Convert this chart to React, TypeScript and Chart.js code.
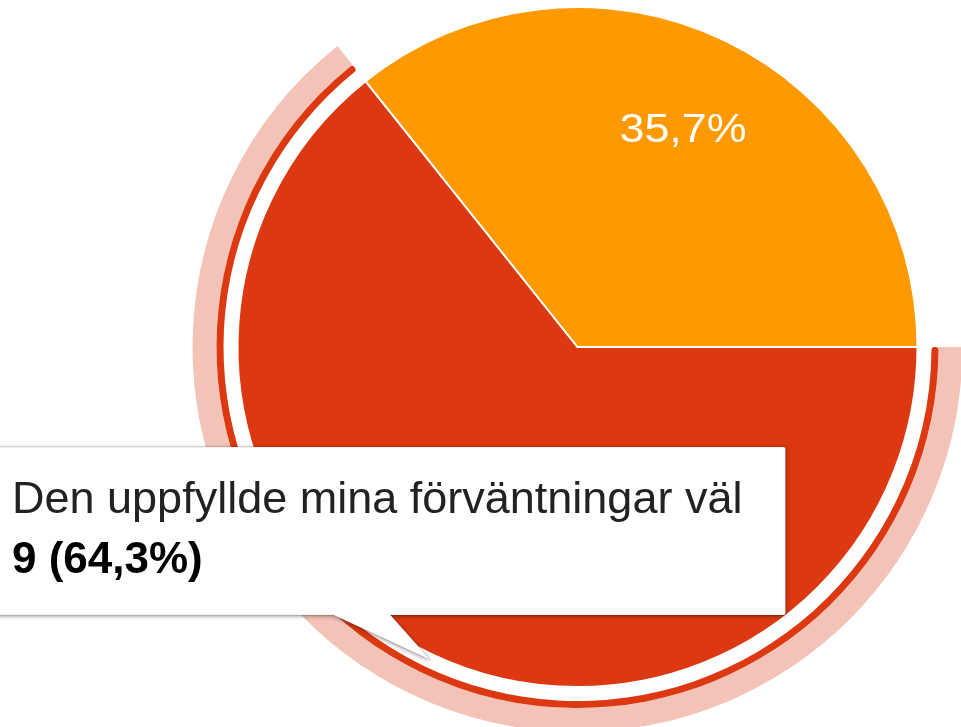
import React, { useEffect, useRef } from 'react';
import { Chart, registerables } from 'chart.js';

Chart.register(...registerables);

// ---- data ----
const categories = [
  'Den uppfyllde mina förväntningar väl',
  'Den överträffade mina förväntningar',
];
const responses = [9, 5];
const sliceColors = ['#DC3912', '#FF9900'];
const highlightedIndex = 0;

const FONT = 'Arial, "Liberation Sans", sans-serif';

const pct = (i: number) => {
  const total = responses.reduce((a, b) => a + b, 0);
  return ((responses[i] / total) * 100).toFixed(1).replace('.', ',') + '%';
};

const MAIN = 3;

const labelPlugin = {
  id: 'sliceLabels',
  afterDatasetsDraw(chart: any) {
    const meta = chart.getDatasetMeta(MAIN);
    const ctx = chart.ctx;
    meta.data.forEach((arc: any, i: number) => {
      const p = arc.getProps(['x', 'y', 'startAngle', 'endAngle', 'outerRadius'], true);
      const mid = (p.startAngle + p.endAngle) / 2;
      const d = p.outerRadius * 0.715;
      const lx = p.x + Math.cos(mid) * d;
      const ly = p.y + Math.sin(mid) * d;
      ctx.save();
      ctx.translate(lx, ly);
      ctx.scale(1.12, 1);
      ctx.fillStyle = '#ffffff';
      ctx.font = `40px ${FONT}`;
      ctx.textAlign = 'center';
      ctx.textBaseline = 'alphabetic';
      ctx.fillText(pct(i), 0, 14.3);
      ctx.restore();
    });
  },
};

const tooltipPlugin = {
  id: 'fixedTooltip',
  afterDraw(chart: any) {
    const meta = chart.getDatasetMeta(MAIN);
    const arc = meta.data[highlightedIndex];
    if (!arc) return;
    const { x: cx, y: cy } = arc.getProps(['x', 'y'], true);
    const ctx = chart.ctx;
    const left = cx - 610;
    const right = cx + 208;
    const top = cy + 100;
    const bottom = cy + 268;
    const pl = cx - 244;
    const pr = cx - 187;
    const tipX = cx - 147;
    const tipY = cy + 313;
    const r = 2;
    ctx.save();
    ctx.beginPath();
    ctx.moveTo(left + r, top);
    ctx.lineTo(right - r, top);
    ctx.quadraticCurveTo(right, top, right, top + r);
    ctx.lineTo(right, bottom - r);
    ctx.quadraticCurveTo(right, bottom, right - r, bottom);
    ctx.lineTo(pr, bottom);
    ctx.lineTo(tipX, tipY);
    ctx.lineTo(pl, bottom);
    ctx.lineTo(left + r, bottom);
    ctx.quadraticCurveTo(left, bottom, left, bottom - r);
    ctx.lineTo(left, top + r);
    ctx.quadraticCurveTo(left, top, left + r, top);
    ctx.closePath();
    ctx.shadowColor = 'rgba(0,0,0,0.45)';
    ctx.shadowBlur = 4;
    ctx.shadowOffsetX = 0;
    ctx.shadowOffsetY = 1;
    ctx.fillStyle = '#ffffff';
    ctx.fill();
    ctx.shadowColor = 'transparent';
    ctx.strokeStyle = 'rgba(0,0,0,0.12)';
    ctx.lineWidth = 1;
    ctx.stroke();

    const tx = cx - 565.5;
    ctx.textAlign = 'left';
    ctx.textBaseline = 'alphabetic';
    ctx.fillStyle = '#222222';
    ctx.font = `45px ${FONT}`;
    ctx.fillText(categories[highlightedIndex], tx, cy + 166);
    ctx.fillStyle = '#000000';
    ctx.font = `bold 44px ${FONT}`;
    ctx.fillText(`${responses[highlightedIndex]} (${pct(highlightedIndex)})`, tx, cy + 226);
    ctx.restore();
  },
};

export default function App() {
  const ref = useRef<HTMLCanvasElement | null>(null);

  useEffect(() => {
    document.body.style.margin = '0';
    const canvas = ref.current;
    if (!canvas) return;
    const ringColors = (c: string) =>
      responses.map((_, i) => (i === highlightedIndex ? c : 'rgba(0,0,0,0)'));
    const chart = new Chart(canvas, {
      type: 'pie',
      data: {
        labels: categories,
        datasets: [
          {
            data: responses,
            backgroundColor: ringColors('rgba(220,57,18,0.3)'),
            borderWidth: 0,
            weight: 24,
          } as any,
          {
            data: responses,
            backgroundColor: ringColors('#DC3912'),
            borderWidth: 0,
            borderRadius: 3,
            weight: 7,
          } as any,
          {
            data: responses,
            backgroundColor: responses.map(() => 'rgba(0,0,0,0)'),
            borderWidth: 0,
            weight: 14,
          } as any,
          {
            data: responses,
            backgroundColor: sliceColors,
            borderColor: '#ffffff',
            borderWidth: 2,
            weight: 340,
          } as any,
        ],
      },
      options: {
        responsive: false,
        animation: false,
        devicePixelRatio: 1,
        events: [],
        rotation: 90,
        radius: 385,
        layout: { padding: 0 },
        plugins: {
          legend: { display: false },
          tooltip: { enabled: false },
          title: { display: false },
        },
      } as any,
      plugins: [labelPlugin, tooltipPlugin],
    });
    return () => chart.destroy();
  }, []);

  return (
    <div
      style={{
        position: 'fixed',
        left: 0,
        top: 0,
        width: 961,
        height: 727,
        overflow: 'hidden',
        background: '#ffffff',
      }}
    >
      <div style={{ position: 'absolute', left: -23, top: -153, width: 1201, height: 1000 }}>
        <canvas ref={ref} width={1201} height={1000} style={{ display: 'block' }} />
      </div>
    </div>
  );
}
